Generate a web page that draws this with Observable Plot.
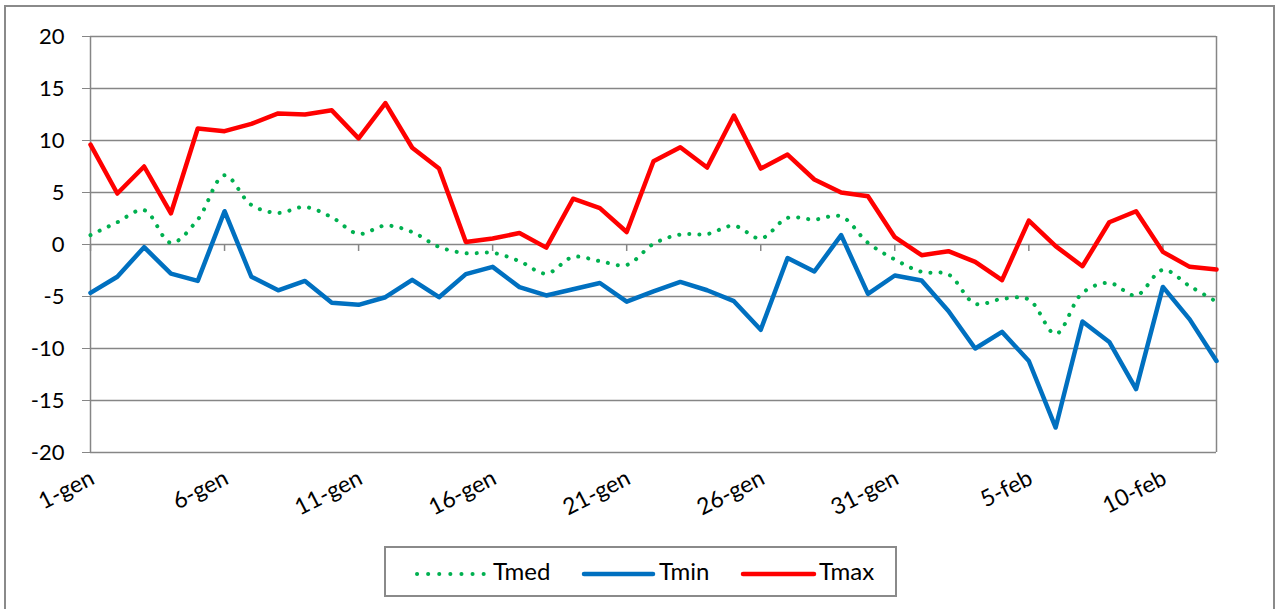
<!DOCTYPE html>
<html>
<head>
<meta charset="utf-8">
<script src="https://cdn.jsdelivr.net/npm/d3@7"></script>
<script src="https://cdn.jsdelivr.net/npm/@observablehq/plot@0.6"></script>
<style>
  body { margin: 0; background: #fff; font-family: Lato, "Open Sans", sans-serif; }
  #frame { position: absolute; left: 4px; top: 5px; width: 1271px; height: 640px; border: 2px solid #8a8a8a; box-sizing: border-box; }
  #chart { position: absolute; left: 0; top: 0; }
  #legend { position: absolute; left: 384px; top: 546px; width: 513px; height: 51px; border: 2px solid #8a8a8a; box-sizing: border-box; background: #fff; font-size: 24px; color: #000; }
  .li-line { position: absolute; top: 23px; }
  .li-text { position: absolute; top: 8px; line-height: 30px; }
</style>
</head>
<body>
<div id="frame"></div>
<div id="chart"></div>
<div id="legend"></div>
<script>
const categories = [
  "1-gen","2-gen","3-gen","4-gen","5-gen","6-gen","7-gen","8-gen","9-gen","10-gen",
  "11-gen","12-gen","13-gen","14-gen","15-gen","16-gen","17-gen","18-gen","19-gen","20-gen",
  "21-gen","22-gen","23-gen","24-gen","25-gen","26-gen","27-gen","28-gen","29-gen","30-gen",
  "31-gen","1-feb","2-feb","3-feb","4-feb","5-feb","6-feb","7-feb","8-feb","9-feb",
  "10-feb","11-feb","12-feb"
];
const tmed = [0.9, 2.14, 3.3, 0.16, 2.4, 6.66, 3.8, 3.04, 3.6, 2.62,
  1.02, 1.82, 1.2, -0.23, -0.84, -0.8, -1.6, -2.8, -1.2, -1.6,
  -1.96, 0.06, 0.96, 1.0, 1.8, 0.58, 2.56, 2.4, 2.7, 0.16,
  -1.44, -2.63, -2.88, -5.7, -5.23, -5.29, -8.6, -4.65, -3.69, -4.9,
  -2.44, -4.0, -5.5];
const tmin = [-4.65, -3.1, -0.26, -2.8, -3.5, 3.2, -3.1, -4.4, -3.5, -5.6,
  -5.8, -5.07, -3.4, -5.07, -2.85, -2.15, -4.1, -4.9, -4.3, -3.7,
  -5.5, -4.5, -3.6, -4.4, -5.45, -8.2, -1.3, -2.6, 0.9, -4.75,
  -2.98, -3.46, -6.4, -10.0, -8.4, -11.2, -17.6, -7.4, -9.37, -13.9,
  -4.08, -7.2, -11.2];
const tmax = [9.6, 4.9, 7.5, 3.0, 11.15, 10.9, 11.6, 12.6, 12.5, 12.9,
  10.2, 13.6, 9.3, 7.3, 0.25, 0.58, 1.1, -0.3, 4.4, 3.5,
  1.2, 8.0, 9.35, 7.4, 12.4, 7.3, 8.65, 6.25, 5.0, 4.64,
  0.7, -1.03, -0.64, -1.67, -3.43, 2.3, -0.16, -2.09, 2.14, 3.2,
  -0.71, -2.15, -2.4];
const tickLabels = ["1-gen","6-gen","11-gen","16-gen","21-gen","26-gen","31-gen","5-feb","10-feb"];
const yTicks = [-20, -15, -10, -5, 0, 5, 10, 15, 20];
const seriesNames = ["Tmed", "Tmin", "Tmax"];
const seriesColors = ["#00B050", "#0070C0", "#FF0000"];

const rows = categories.map((c, i) => ({date: c, tmed: tmed[i], tmin: tmin[i], tmax: tmax[i]}));
const grid = "#868686";

const chart = Plot.plot({
  width: 1276,
  height: 520,
  marginLeft: 90,
  marginRight: 60,
  marginTop: 36,
  marginBottom: 68,
  style: {fontFamily: "Lato, 'Open Sans', sans-serif", fontSize: "22px", color: "#000", background: "transparent", overflow: "visible"},
  x: {type: "point", domain: categories, padding: 0, axis: null},
  y: {domain: [-20, 20], axis: null},
  marks: [
    Plot.ruleY(yTicks, {stroke: grid, strokeWidth: 1.5}),
    Plot.ruleX([categories[0], categories[categories.length - 1]], {stroke: grid, strokeWidth: 1.5}),
    Plot.axisY(yTicks, {tickSize: 8, tickPadding: 18, stroke: grid, fill: "#000", fontSize: 22, tickFormat: d => String(d)}),
    Plot.ruleX(tickLabels, {x: d => d, y1: 0, y2: -0.67, stroke: grid, strokeWidth: 1.5}),
    Plot.text(tickLabels, {x: d => d, frameAnchor: "bottom", dy: 24, dx: 2, rotate: -27, textAnchor: "end", lineAnchor: "middle", fontSize: 23, fill: "#000"}),
    Plot.line(rows, {x: "date", y: "tmed", stroke: seriesColors[0], strokeWidth: 4, strokeDasharray: "0.1 10", strokeLinecap: "round", curve: "catmull-rom"}),
    Plot.line(rows, {x: "date", y: "tmin", stroke: seriesColors[1], strokeWidth: 4.5, strokeLinejoin: "round"}),
    Plot.line(rows, {x: "date", y: "tmax", stroke: seriesColors[2], strokeWidth: 4.5, strokeLinejoin: "round"})
  ]
});
document.getElementById("chart").appendChild(chart);

// Legend
const legend = document.getElementById("legend");
const lineX = [[31, 98], [198, 267], [357, 428]];
const textX = [107, 273, 433];
seriesNames.forEach((name, i) => {
  const [a, b] = lineX[i];
  const svgNS = "http://www.w3.org/2000/svg";
  const s = document.createElementNS(svgNS, "svg");
  s.setAttribute("class", "li-line");
  s.setAttribute("width", b - a + 6);
  s.setAttribute("height", 6);
  s.style.left = (a - 3) + "px";
  const l = document.createElementNS(svgNS, "line");
  l.setAttribute("x1", 3); l.setAttribute("x2", b - a + 3);
  l.setAttribute("y1", 3); l.setAttribute("y2", 3);
  l.setAttribute("stroke", seriesColors[i]);
  l.setAttribute("stroke-width", 4.5);
  l.setAttribute("stroke-linecap", "round");
  if (i === 0) { l.setAttribute("stroke-dasharray", "0.1 11"); l.setAttribute("stroke-width", 4); }
  s.appendChild(l);
  legend.appendChild(s);
  const t = document.createElement("div");
  t.className = "li-text";
  t.style.left = textX[i] + "px";
  t.textContent = name;
  legend.appendChild(t);
});
</script>
</body>
</html>
